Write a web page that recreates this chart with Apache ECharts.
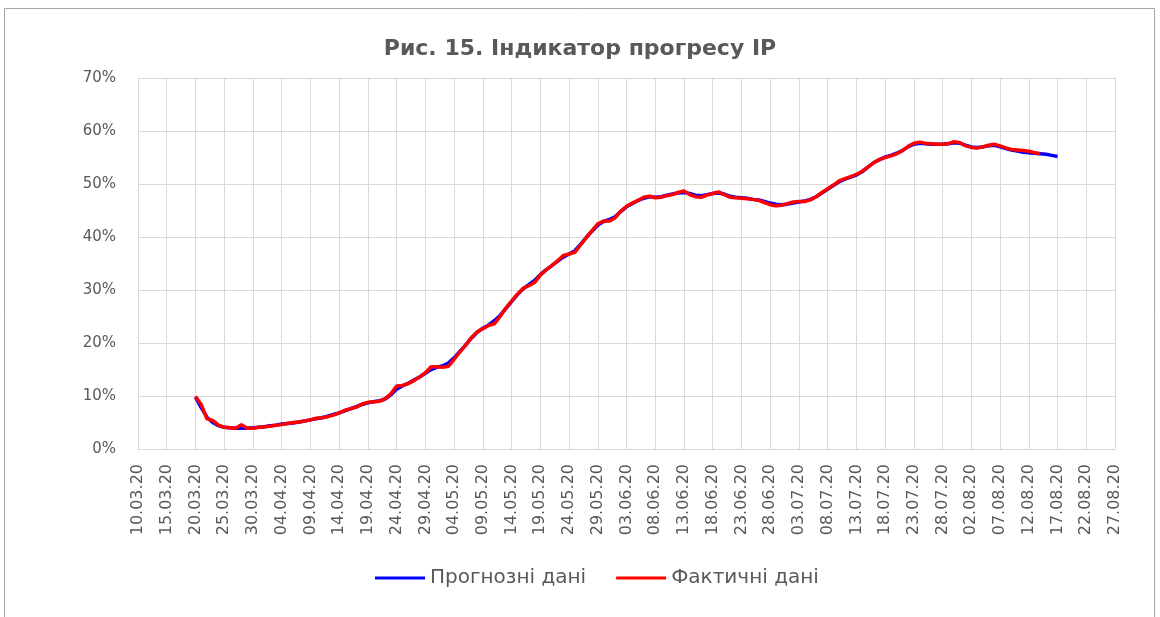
<!DOCTYPE html>
<html>
<head>
<meta charset="utf-8">
<script src="https://cdn.jsdelivr.net/npm/echarts@6/dist/echarts.min.js"></script>
<style>
  html, body { margin: 0; padding: 0; background: #fff; }
  #chart { width: 1160px; height: 617px; }
</style>
</head>
<body>
<div id="chart"></div>
<script>
// axis: every day from 10.03.20 to 27.08.20
const startDate = new Date(2020, 2, 10);
const dayCount = 171;
const dates = [];
for (let i = 0; i < dayCount; i++) {
    const d = new Date(startDate.getTime() + i * 86400000);
    const dd = String(d.getDate()).padStart(2, '0');
    const mm = String(d.getMonth() + 1).padStart(2, '0');
    dates.push(dd + '.' + mm + '.20');
}

// both series start on 20.03.20 (day index 10)
const seriesOffset = 10;

// Прогнозні дані, %, 20.03.20 .. 17.08.20
const forecast = [
    9.8, 7.8, 6.0, 5.0, 4.4, 4.1, 4.0, 3.9, 3.9, 3.9,
    4.0, 4.1, 4.2, 4.4, 4.5, 4.7, 4.8, 4.9, 5.1, 5.3,
    5.5, 5.7, 5.9, 6.2, 6.5, 6.8, 7.2, 7.6, 8.0, 8.4,
    8.7, 8.9, 9.1, 9.4, 10.2, 11.3, 11.9, 12.4, 13.0, 13.6,
    14.3, 15.0, 15.4, 15.7, 16.2, 17.2, 18.4, 19.6, 20.9, 22.0,
    22.8, 23.4, 24.2, 25.2, 26.5, 27.8, 29.1, 30.2, 31.0, 31.8,
    32.9, 33.8, 34.6, 35.4, 36.2, 36.8, 37.4, 38.6, 39.9, 41.1,
    42.2, 42.9, 43.3, 43.8, 44.8, 45.7, 46.3, 46.9, 47.3, 47.6,
    47.5, 47.6, 47.9, 48.1, 48.3, 48.4, 48.2, 47.9, 47.8, 48.0,
    48.2, 48.3, 48.1, 47.7, 47.5, 47.4, 47.3, 47.1, 47.0, 46.7,
    46.4, 46.2, 46.1, 46.2, 46.4, 46.6, 46.8, 47.1, 47.6, 48.3,
    49.0, 49.7, 50.4, 50.9, 51.3, 51.7, 52.3, 53.2, 54.0, 54.6,
    55.1, 55.4, 55.8, 56.3, 57.0, 57.5, 57.7, 57.6, 57.5, 57.5,
    57.5, 57.6, 57.8, 57.7, 57.3, 57.0, 56.9, 57.0, 57.2, 57.3,
    57.0, 56.7, 56.4, 56.2, 56.0, 55.9, 55.8, 55.7, 55.6, 55.4,
    55.2
];

// Фактичні дані, %, 20.03.20 .. 14.08.20
const actual = [
    9.9, 8.4, 5.7, 5.4, 4.5, 4.1, 4.0, 3.9, 4.6, 3.9,
    3.9, 4.1, 4.2, 4.3, 4.5, 4.6, 4.8, 5.0, 5.1, 5.3,
    5.5, 5.8, 5.9, 6.1, 6.4, 6.8, 7.3, 7.6, 7.9, 8.5,
    8.8, 8.9, 9.0, 9.5, 10.4, 11.9, 12.0, 12.3, 12.9, 13.6,
    14.4, 15.5, 15.5, 15.4, 15.6, 16.9, 18.3, 19.6, 21.0, 22.1,
    22.7, 23.3, 23.6, 25.0, 26.6, 27.9, 29.2, 30.3, 30.8, 31.4,
    32.8, 33.8, 34.6, 35.5, 36.5, 36.8, 37.1, 38.5, 39.9, 41.2,
    42.5, 43.0, 43.0, 43.6, 44.9, 45.8, 46.4, 46.9, 47.5, 47.7,
    47.4, 47.5, 47.8, 48.0, 48.4, 48.7, 48.0, 47.6, 47.5, 47.9,
    48.2, 48.5, 48.0, 47.5, 47.4, 47.3, 47.2, 47.1, 46.9, 46.5,
    46.1, 45.9, 46.0, 46.3, 46.6, 46.7, 46.7, 47.0, 47.6, 48.4,
    49.1, 49.8, 50.6, 51.0, 51.4, 51.8, 52.4, 53.2, 54.0, 54.6,
    55.0, 55.3, 55.7, 56.3, 57.1, 57.7, 57.9, 57.7, 57.6, 57.5,
    57.5, 57.6, 58.0, 57.8, 57.2, 56.9, 56.8, 57.0, 57.3, 57.5,
    57.2, 56.8, 56.5, 56.4, 56.3, 56.2, 55.9, 55.7
];

function padSeries(values) {
    const out = new Array(seriesOffset).fill(null);
    return out.concat(values);
}

const textColor = '#595959';
const gridColor = '#d9d9d9';

const chart = echarts.init(document.getElementById('chart'));
chart.setOption({
    backgroundColor: '#fff',
    animation: false,
    title: {
        text: 'Рис. 15. Індикатор прогресу IP',
        left: 'center',
        top: 33,
        textStyle: {
            fontFamily: 'DejaVu Sans',
            fontSize: 22,
            fontWeight: 'bold',
            color: textColor
        }
    },
    legend: {
        bottom: 24,
        left: 370,
        itemWidth: 50,
        itemHeight: 3,
        itemGap: 30,
        icon: 'rect',
        textStyle: {
            fontFamily: 'DejaVu Sans',
            fontSize: 20,
            color: textColor
        },
        data: ['Прогнозні дані', 'Фактичні дані']
    },
    grid: {
        left: 138,
        right: 45,
        top: 78,
        bottom: 168
    },
    xAxis: {
        type: 'category',
        data: dates,
        boundaryGap: false,
        axisLine: { lineStyle: { color: gridColor } },
        axisTick: { show: false },
        axisLabel: {
            interval: 4,
            rotate: 90,
            margin: 15,
            fontFamily: 'DejaVu Sans',
            fontSize: 16,
            color: textColor
        },
        splitLine: {
            show: true,
            interval: 4,
            lineStyle: { color: gridColor, width: 1 }
        }
    },
    yAxis: {
        type: 'value',
        min: 0,
        max: 70,
        interval: 10,
        axisLine: { show: false },
        axisTick: { show: false },
        axisLabel: {
            formatter: '{value}%',
            margin: 22,
            fontFamily: 'DejaVu Sans',
            fontSize: 15,
            color: textColor
        },
        splitLine: { lineStyle: { color: gridColor, width: 1 } }
    },
    graphic: [{
        type: 'rect',
        shape: { x: 4.5, y: 8.5, width: 1150, height: 640 },
        style: { fill: 'none', stroke: '#a6a6a6', lineWidth: 1 },
        silent: true
    }],
    series: [{
        name: 'Прогнозні дані',
        type: 'line',
        data: padSeries(forecast),
        showSymbol: false,
        connectNulls: false,
        itemStyle: { color: '#0000ff' },
        lineStyle: { color: '#0000ff', width: 3.5 }
    }, {
        name: 'Фактичні дані',
        type: 'line',
        data: padSeries(actual),
        showSymbol: false,
        connectNulls: false,
        itemStyle: { color: '#ff0000' },
        lineStyle: { color: '#ff0000', width: 3.5 }
    }]
});
</script>
</body>
</html>
